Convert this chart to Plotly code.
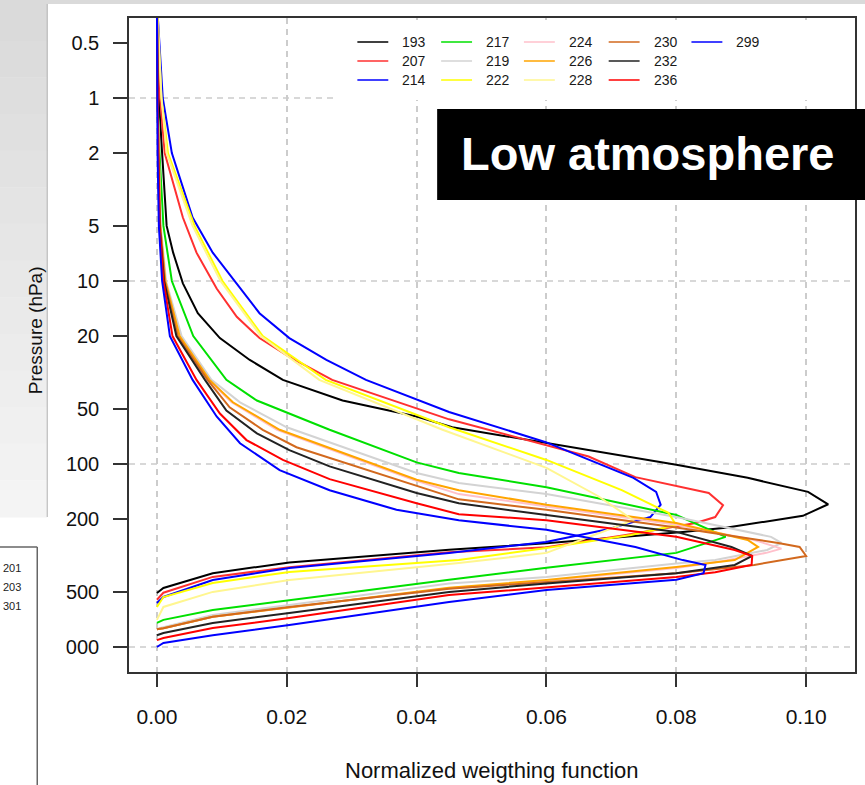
import math
import plotly.graph_objects as go

# ---------------- data ----------------
channels = ["193", "207", "214", "217", "219", "222", "224", "226", "228", "230", "232", "236", "299"]
colors = ["#000000", "#ff3030", "#0000ff", "#00e000", "#d3d3d3", "#ffff00", "#ffc0cb",
          "#ffa500", "#fff68f", "#d2691e", "#222222", "#ff0000", "#0000ff"]

p193 = [0.3, 1, 2, 5, 7, 10.3, 15, 20.5, 27, 34.7, 45, 55, 63, 77, 101, 119, 142, 166, 192, 223, 235, 271, 294, 345, 395, 476, 507]
w193 = [0, 0.0003, 0.0008, 0.0015, 0.0025, 0.004, 0.0063, 0.0097, 0.0143, 0.0194, 0.0286, 0.040, 0.0455, 0.060, 0.080, 0.091, 0.1003, 0.1034, 0.0995, 0.0876, 0.081, 0.060, 0.045, 0.0204, 0.0086, 0.001, 0]

p207 = [0.3, 1, 2, 4.5, 7, 11, 15.7, 20.5, 26, 34.7, 57, 91, 118, 133, 144, 168, 195, 210, 245, 285, 304, 366, 414, 505, 552]
w207 = [0, 0.0005, 0.0012, 0.004, 0.0061, 0.0092, 0.0123, 0.0158, 0.0204, 0.027, 0.045, 0.0665, 0.0737, 0.0808, 0.085, 0.0872, 0.086, 0.083, 0.072, 0.060, 0.045, 0.0204, 0.0086, 0.001, 0]

p214 = [0.3, 1, 2, 4.5, 7, 10.3, 15, 20.5, 27, 34.7, 52, 76, 119, 142, 167, 195, 229, 267, 306, 370, 430, 533, 575]
w214 = [0, 0.0009, 0.0023, 0.0055, 0.0086, 0.0122, 0.0158, 0.0204, 0.0261, 0.0322, 0.045, 0.0599, 0.0734, 0.0769, 0.0776, 0.076, 0.0691, 0.0599, 0.045, 0.0204, 0.0086, 0.001, 0]

p217 = [0.3, 1, 2, 5, 10, 20, 34.7, 45, 65, 98, 112, 134, 190, 250, 306, 369, 429, 553, 628, 711, 739]
w217 = [0, 0.0001, 0.0004, 0.001, 0.0023, 0.0056, 0.0107, 0.0154, 0.0266, 0.04, 0.0465, 0.06, 0.08, 0.0876, 0.08, 0.06, 0.045, 0.0204, 0.0086, 0.001, 0]

p219 = [0.3, 1, 2, 5, 10, 20, 34.7, 46, 63, 112, 127, 146, 195, 250, 270, 295, 335, 350, 415, 450, 590, 668, 780, 795]
w219 = [0, 0.0001, 0.0003, 0.0006, 0.0014, 0.0038, 0.0084, 0.0128, 0.02, 0.04, 0.0465, 0.06, 0.08, 0.0946, 0.0962, 0.094, 0.086, 0.08, 0.06, 0.045, 0.0204, 0.0086, 0.001, 0]

p222 = [0.3, 1, 2, 5, 10, 20, 34.7, 63, 95, 139, 185, 216, 244, 288, 335, 389, 447, 533, 604]
w222 = [0, 0.0007, 0.0017, 0.0058, 0.0101, 0.0163, 0.026, 0.045, 0.06, 0.0716, 0.0788, 0.08, 0.073, 0.06, 0.0465, 0.0204, 0.0086, 0.001, 0]

p224 = [0.3, 1, 2, 5, 10, 20, 34.7, 46, 65, 122, 146, 170, 215, 260, 290, 305, 340, 370, 435, 478, 605, 683, 790, 800]
w224 = [0, 0.0001, 0.0003, 0.0005, 0.0013, 0.0034, 0.0079, 0.0115, 0.0185, 0.0395, 0.0465, 0.06, 0.08, 0.092, 0.0962, 0.094, 0.087, 0.08, 0.06, 0.045, 0.0204, 0.0086, 0.001, 0]

p226 = [0.3, 1, 2, 5, 10, 20, 34.7, 46, 65, 122, 139, 167, 210, 260, 284, 335, 365, 430, 475, 605, 683, 790, 800]
w226 = [0, 0.0001, 0.0003, 0.0005, 0.0013, 0.0035, 0.0081, 0.0117, 0.0189, 0.04, 0.0465, 0.06, 0.08, 0.091, 0.0926, 0.089, 0.08, 0.06, 0.045, 0.0204, 0.0086, 0.001, 0]

p228 = [0.3, 1, 2, 5, 10, 20, 34.7, 65, 105, 150, 203, 240, 306, 348, 430, 500, 604, 711]
w228 = [0, 0.0007, 0.0015, 0.0055, 0.0098, 0.016, 0.025, 0.044, 0.06, 0.068, 0.0734, 0.068, 0.06, 0.0465, 0.0204, 0.0086, 0.001, 0]

p230 = [0.3, 1, 2, 5, 10, 20, 34.7, 49, 65, 81, 132, 156, 178, 222, 270, 284, 318, 356, 395, 440, 480, 605, 683, 790, 800]
w230 = [0, 0.0001, 0.0002, 0.0005, 0.0012, 0.0032, 0.0078, 0.0112, 0.0163, 0.0215, 0.04, 0.0465, 0.06, 0.08, 0.0957, 0.099, 0.1, 0.092, 0.08, 0.06, 0.045, 0.0204, 0.0086, 0.001, 0]

p232 = [0.3, 1, 2, 5, 10, 20, 34.7, 51, 68, 84, 103, 144, 164, 190, 235, 284, 318, 356, 395, 450, 500, 652, 739, 838, 862]
w232 = [0, 0.0001, 0.0002, 0.0004, 0.0011, 0.003, 0.0074, 0.0107, 0.0154, 0.0204, 0.0266, 0.04, 0.0465, 0.06, 0.08, 0.0885, 0.0917, 0.089, 0.08, 0.06, 0.045, 0.0204, 0.0086, 0.001, 0]

p236 = [0.3, 1, 2, 5, 10, 20, 34.7, 53, 74, 95, 121, 164, 188, 203, 250, 295, 318, 356, 390, 415, 470, 520, 695, 787, 893, 917]
w236 = [0, 0.0001, 0.0002, 0.0004, 0.001, 0.0024, 0.0061, 0.0097, 0.0138, 0.0194, 0.0266, 0.04, 0.0465, 0.06, 0.08, 0.089, 0.0917, 0.0916, 0.086, 0.08, 0.06, 0.045, 0.0204, 0.0086, 0.001, 0]

p299 = [0.3, 1, 2, 5, 10, 20, 34.7, 55, 77, 108, 139, 178, 203, 229, 284, 335, 356, 395, 429, 488, 568, 759, 862, 951, 1000]
w299 = [0, 0.0001, 0.0001, 0.0003, 0.0008, 0.002, 0.0055, 0.0092, 0.0128, 0.0189, 0.0266, 0.0369, 0.0465, 0.06, 0.0737, 0.081, 0.0845, 0.0842, 0.08, 0.06, 0.045, 0.0204, 0.0086, 0.001, 0]

pressures = [p193, p207, p214, p217, p219, p222, p224, p226, p228, p230, p232, p236, p299]
weights = [w193, w207, w214, w217, w219, w222, w224, w226, w228, w230, w232, w236, w299]

y_tick_vals = [0.5, 1, 2, 5, 10, 20, 50, 100, 200, 500, 1000]
y_tick_text = ["0.5", "1", "2", "5", "10", "20", "50", "100", "200", "500", "1000"]
y_grid_vals = [1, 10, 100, 1000]
x_tick_vals = [0.0, 0.02, 0.04, 0.06, 0.08, 0.10]
x_tick_text = ["0.00", "0.02", "0.04", "0.06", "0.08", "0.10"]
side_labels = ["201", "203", "301"]

# ---------------- layout geometry ----------------
W, H = 865, 785
L, R, T, B = 129, 857, 18, 672
X_RANGE = [-0.0043, 0.10753]
Y_LOG_BOTTOM, Y_LOG_TOP = 3.1366, -0.4372


def fx(px):
    return (px - L) / (R - L)


def fy(py):
    return 1 - (py - T) / (B - T)


def fy_log(v):
    return (math.log10(v) - Y_LOG_BOTTOM) / (Y_LOG_TOP - Y_LOG_BOTTOM)


FONT = "Liberation Sans, Arial, sans-serif"
TXT = "#111111"

fig = go.Figure()
for ch, col, p, w in zip(channels, colors, pressures, weights):
    fig.add_trace(go.Scatter(x=w, y=p, mode="lines", name=ch,
                             line=dict(color=col, width=2), showlegend=False))

shapes = []
annotations = []

# horizontal dashed grid lines (decades only)
for v in y_grid_vals:
    shapes.append(dict(type="line", xref="paper", yref="paper", x0=0, x1=1,
                       y0=fy_log(v), y1=fy_log(v), layer="below",
                       line=dict(color="#cccccc", width=1.5, dash="6px,5px")))

# legend background
shapes.append(dict(type="rect", xref="paper", yref="paper", x0=fx(337), x1=fx(852),
                   y0=fy(100), y1=fy(20), fillcolor="white", line=dict(width=0), layer="above"))

# legend entries (column-major, 3 rows x 5 cols)
col_x = [358, 442, 525, 610, 693]
row_y = [42, 61, 80]
for i, (ch, col) in enumerate(zip(channels, colors)):
    c, r = divmod(i, 3)
    x0 = col_x[c]
    y0 = row_y[r]
    shapes.append(dict(type="line", xref="paper", yref="paper", x0=fx(x0), x1=fx(x0 + 31),
                       y0=fy(y0), y1=fy(y0), line=dict(color=col, width=1.5), layer="above"))
    annotations.append(dict(xref="paper", yref="paper", x=fx(x0 + 43), y=fy(y0), text=ch,
                            showarrow=False, xanchor="left", yanchor="middle",
                            font=dict(family=FONT, size=14, color="#1a1a1a")))

# black "Low atmosphere" box
shapes.append(dict(type="rect", xref="paper", yref="paper", x0=fx(438), x1=fx(870),
                   y0=fy(200), y1=fy(109), fillcolor="black", line=dict(width=0), layer="above"))
annotations.append(dict(xref="paper", yref="paper", x=fx(649), y=fy(154), text="<b>Low atmosphere</b>",
                        showarrow=False, xanchor="center", yanchor="middle",
                        font=dict(family=FONT, size=47, color="white")))

# screenshot chrome: top strip, left gray panel, label cover and side box
shapes.append(dict(type="rect", xref="paper", yref="paper", x0=fx(-5), x1=fx(W + 5),
                   y0=fy(4), y1=fy(-5), fillcolor="#dadada", line=dict(width=0), layer="above"))
shapes.append(dict(type="rect", xref="paper", yref="paper", x0=fx(-5), x1=fx(66),
                   y0=fy(790), y1=fy(506), fillcolor="white", line=dict(width=0), layer="above"))
n_bands = 14
top_g, bot_g = 218, 244
for k in range(n_bands):
    ya = 4 + (517 - 4) * k / n_bands
    yb = 4 + (517 - 4) * (k + 1) / n_bands
    g = round(top_g + (bot_g - top_g) * k / (n_bands - 1))
    shapes.append(dict(type="rect", xref="paper", yref="paper", x0=fx(-5), x1=fx(47),
                       y0=fy(yb + 0.5), y1=fy(ya), fillcolor=f"rgb({g},{g},{g})",
                       line=dict(width=0), layer="above"))
shapes.append(dict(type="line", xref="paper", yref="paper", x0=fx(47), x1=fx(47),
                   y0=fy(517), y1=fy(4), line=dict(color="#b0b0b0", width=1), layer="above"))
shapes.append(dict(type="line", xref="paper", yref="paper", x0=fx(-5), x1=fx(37),
                   y0=fy(547), y1=fy(547), line=dict(color="#666666", width=1.5), layer="above"))
shapes.append(dict(type="line", xref="paper", yref="paper", x0=fx(37), x1=fx(37),
                   y0=fy(790), y1=fy(547), line=dict(color="#666666", width=1.5), layer="above"))
for j, t in enumerate(side_labels):
    annotations.append(dict(xref="paper", yref="paper", x=fx(1), y=fy(568 + 19 * j), text=t,
                            showarrow=False, xanchor="left", yanchor="middle",
                            font=dict(family=FONT, size=11, color="#222222")))

# axis titles
annotations.append(dict(xref="paper", yref="paper", x=fx(35), y=fy(330), text="Pressure (hPa)",
                        textangle=-90, showarrow=False, xanchor="center", yanchor="middle",
                        font=dict(family=FONT, size=19, color=TXT)))
annotations.append(dict(xref="paper", yref="paper", x=fx(493), y=fy(770),
                        text="Normalized weigthing function",
                        showarrow=False, xanchor="center", yanchor="middle",
                        font=dict(family=FONT, size=22, color=TXT)))

fig.update_layout(
    width=W, height=H,
    margin=dict(l=L, r=W - R, t=T, b=H - B, pad=0),
    paper_bgcolor="white", plot_bgcolor="white",
    showlegend=False,
    shapes=shapes, annotations=annotations,
    xaxis=dict(range=X_RANGE, tickvals=x_tick_vals, ticktext=x_tick_text,
               showgrid=True, gridcolor="#cccccc", gridwidth=1.5, griddash="6px,5px",
               zeroline=False, showline=True, mirror=True, linecolor="#333333", linewidth=1.5,
               ticks="outside", ticklen=13, tickwidth=1.5, tickcolor="#333333",
               ticklabelstandoff=12,
               tickfont=dict(family=FONT, size=21, color=TXT)),
    yaxis=dict(type="log", range=[Y_LOG_BOTTOM, Y_LOG_TOP], tickvals=y_tick_vals, ticktext=y_tick_text,
               showgrid=False, zeroline=False, showline=True, mirror=True, linecolor="#333333",
               linewidth=1.5, ticks="outside", ticklen=14, tickwidth=1.5, tickcolor="#333333",
               ticklabelstandoff=10,
               tickfont=dict(family=FONT, size=20, color=TXT)),
)

fig.write_html("out.html", config={"displayModeBar": False},
               post_script="document.body.style.margin='0px';document.body.style.overflow='hidden';")
